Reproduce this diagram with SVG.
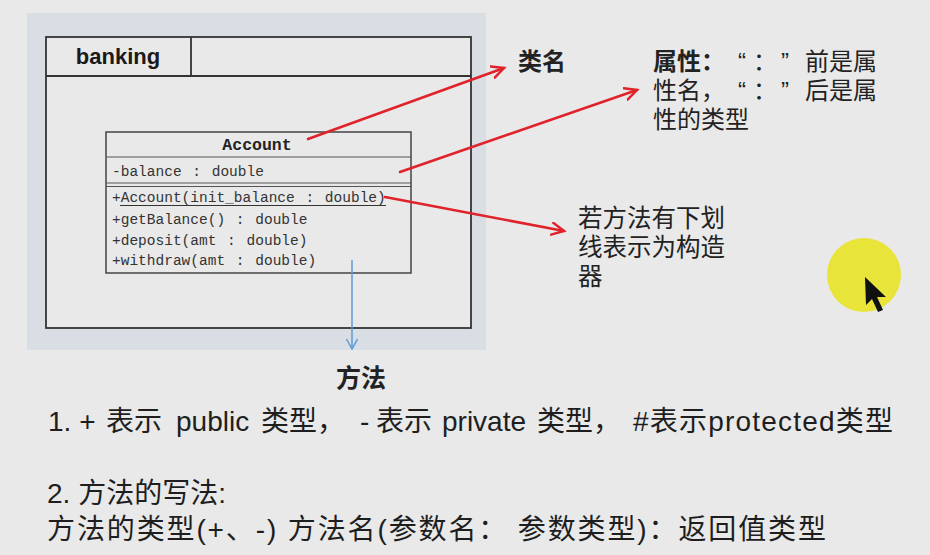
<svg xmlns="http://www.w3.org/2000/svg" width="930" height="555" viewBox="0 0 930 555">
<style>
.frame{fill:#e9e9e9;stroke:#333;stroke-width:1.8}
.cls{fill:#e9e9e9;stroke:#444;stroke-width:1.5}
.sep{stroke:#555;stroke-width:1.2}
.mono{font-family:"Liberation Mono",monospace;font-size:14.5px;fill:#333;word-spacing:2px;white-space:pre}
.title{font-family:"Liberation Mono",monospace;font-size:16.5px;font-weight:bold;fill:#222}
.cn{font-family:"Noto Sans CJK SC","Liberation Sans",sans-serif;fill:#222}
.q{font-family:"Liberation Sans",sans-serif}
.body{font-family:"Liberation Sans","Noto Sans CJK SC",sans-serif;font-size:28px;fill:#1e1e1e}
.red{fill:none;stroke:#e0222a;stroke-width:2.5;stroke-linecap:round}
.blue{fill:none;stroke:#5b9bd5;stroke-width:1.5}
</style>
<defs>
<marker id="ah" markerUnits="userSpaceOnUse" markerWidth="18" markerHeight="16" refX="13" refY="7" orient="auto">
<path d="M1,1 L13,7 L1,13" fill="none" stroke="#e0222a" stroke-width="2.5" stroke-linecap="round"/>
</marker>
<marker id="bh" markerUnits="userSpaceOnUse" markerWidth="14" markerHeight="14" refX="11" refY="6" orient="auto">
<path d="M1,0.5 L11,6 L1,11.5" fill="none" stroke="#5b9bd5" stroke-width="1.5"/>
</marker>
</defs>
<rect x="0" y="0" width="930" height="555" fill="#e9e9e9"/>
<rect x="27" y="13" width="459" height="337" fill="#d9dde4"/>

<g id="banking">
<rect x="46" y="37" width="425" height="291" class="frame"/>
<line x1="46" y1="76" x2="471" y2="76" stroke="#333" stroke-width="1.8"/>
<line x1="191" y1="37" x2="191" y2="76" stroke="#333" stroke-width="1.8"/>
<text x="118" y="64" text-anchor="middle" font-family="Liberation Sans,sans-serif" font-weight="bold" font-size="22" fill="#1a1a1a">banking</text>
</g>

<g id="account">
<rect x="106" y="132" width="305" height="141" class="cls"/>
<line x1="106" y1="157" x2="411" y2="157" class="sep"/>
<line x1="106" y1="183" x2="411" y2="183" class="sep"/>
<line x1="106" y1="186.5" x2="411" y2="186.5" class="sep"/>
<text x="257" y="150" text-anchor="middle" class="title">Account</text>
<text x="112" y="176" class="mono">-balance : double</text>
<text x="112" y="202" class="mono">+Account(init_balance : double)</text>
<line x1="120" y1="205.5" x2="386" y2="205.5" stroke="#333" stroke-width="1"/>
<text x="112" y="224" class="mono">+getBalance() : double</text>
<text x="112" y="245" class="mono">+deposit(amt : double)</text>
<text x="112" y="265" class="mono">+withdraw(amt : double)</text>
</g>

<g id="connectors">
<line x1="308" y1="139" x2="504" y2="68" class="red" marker-end="url(#ah)"/>
<line x1="400" y1="172" x2="637" y2="90" class="red" marker-end="url(#ah)"/>
<line x1="385" y1="197" x2="564" y2="231" class="red" marker-end="url(#ah)"/>
<line x1="352" y1="260" x2="352" y2="349" class="blue" marker-end="url(#bh)"/>
</g>

<g id="label-classname">
<text x="518" y="70" class="cn" font-size="24" font-weight="bold">类名</text>
</g>

<g id="label-attr" class="cn" font-size="24">
<text y="70"><tspan x="653" font-weight="bold">属性：</tspan><tspan x="742" text-anchor="middle" class="q">“</tspan><tspan x="753">：</tspan><tspan x="785" text-anchor="middle" class="q">”</tspan><tspan x="805">前是属</tspan></text>
<text y="99"><tspan x="653">性名，</tspan><tspan x="742" text-anchor="middle" class="q">“</tspan><tspan x="753">：</tspan><tspan x="785" text-anchor="middle" class="q">”</tspan><tspan x="805">后是属</tspan></text>
<text x="653" y="128">性的类型</text>
</g>

<g id="label-ctor" class="cn" font-size="24.5">
<text x="578" y="227">若方法有下划</text>
<text x="578" y="256">线表示为构造</text>
<text x="578" y="285">器</text>
</g>

<g id="label-method">
<text x="336" y="387" class="cn" font-size="25" font-weight="bold">方法</text>
</g>

<g id="notes" class="body">
<text y="431"><tspan x="48">1. +</tspan><tspan x="106">表示</tspan><tspan x="176">public</tspan><tspan x="261">类型，</tspan><tspan x="360">-</tspan><tspan x="376">表示</tspan><tspan x="442">private</tspan><tspan x="537">类型，</tspan><tspan x="633" textLength="260">#表示protected类型</tspan></text>
<text x="47" y="503">2. 方法的写法:</text>
<text x="47" y="539" textLength="779">方法的类型(+、-)  方法名(参数名： 参数类型)：返回值类型</text>
</g>

<g id="pointer">
<circle cx="864" cy="275" r="37" fill="#e8e43a"/>
<polygon points="865,277 866,305 872,299 878,312 883,310 877,297 886,297" fill="#111"/>
</g>
</svg>
